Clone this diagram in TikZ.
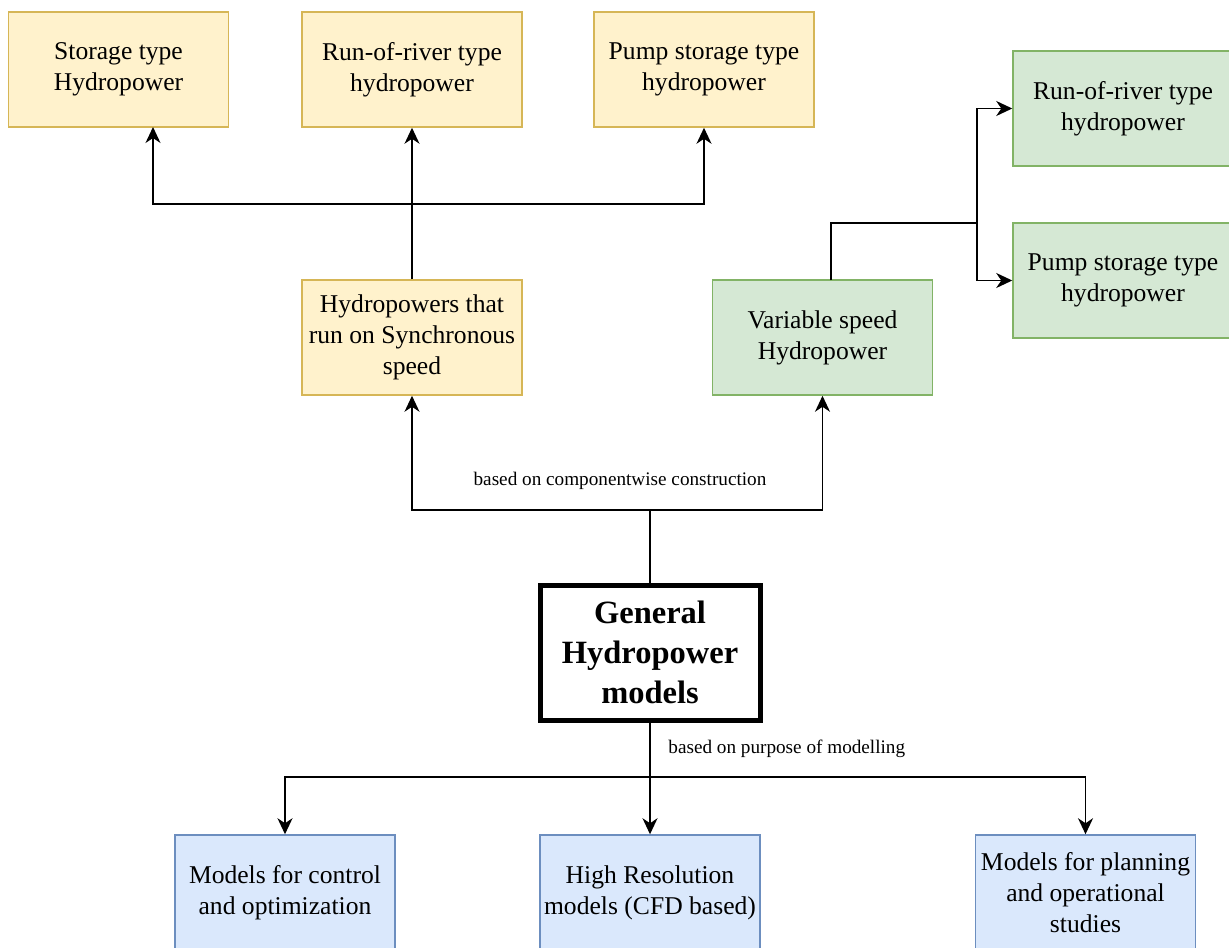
\documentclass[tikz,border=0pt]{standalone}
\usepackage{fontspec}
\setmainfont{Liberation Serif}
\usetikzlibrary{arrows.meta}
\definecolor{yfill}{HTML}{FFF2CC}
\definecolor{ydraw}{HTML}{D6B656}
\definecolor{gfill}{HTML}{D5E8D4}
\definecolor{gdraw}{HTML}{82B366}
\definecolor{bfill}{HTML}{DAE8FC}
\definecolor{bdraw}{HTML}{6C8EBF}
\tikzset{
  box/.style={rectangle, line width=0.75pt, minimum width=110pt, minimum height=57.5pt,
    align=center, inner sep=2pt, font=\fontsize{12.8}{15.4}\selectfont},
  ybox/.style={box, fill=yfill, draw=ydraw},
  gbox/.style={box, fill=gfill, draw=gdraw},
  bbox/.style={box, fill=bfill, draw=bdraw},
  genbox/.style={rectangle, draw=black, fill=white, line width=2.5pt, minimum width=110pt,
    minimum height=67.5pt, align=center, font=\fontsize{16.25}{20}\selectfont\bfseries},
  conn/.style={line width=0.8pt, draw=black},
  arr/.style={conn, -{Stealth[length=8pt, width=7.5pt, inset=2.5pt]}},
  lbl/.style={font=\fontsize{9.6}{11.5}\selectfont, inner sep=0pt}
}
\begin{document}
\begin{tikzpicture}[x=0.5pt, y=-0.5pt]
\useasboundingbox (0,0) rectangle (1229,947);
\clip (0,0) rectangle (1229,947);
\fill[white] (0,0) rectangle (1229,947);

% top yellow boxes
\node[ybox] (s1) at (118.5,69.5) {Storage type\\Hydropower};
\node[ybox] (s2) at (412,69.5) {Run-of-river type\\hydropower};
\node[ybox] (s3) at (704,69.5) {Pump storage type\\hydropower};

% middle
\node[ybox] (sync) at (412,337.5) {Hydropowers that\\run on Synchronous\\speed};
\node[gbox] (var) at (822.5,337.5) {Variable speed\\Hydropower};

% right green
\node[gbox] (g1) at (1123,108.5) {Run-of-river type\\hydropower};
\node[gbox] (g2) at (1123,280.5) {Pump storage type\\hydropower};

% general
\node[genbox] (gen) at (650,652.5) {General\\Hydropower\\models};

% bottom blue
\node[bbox] (b1) at (285,892.5) {Models for control\\and optimization};
\node[bbox] (b2) at (650,892.5) {High Resolution\\models (CFD based)};
\node[bbox] (b3) at (1085.5,892.5) {Models for planning\\and operational\\studies};

% coordinates
\coordinate (j1) at (412,204);
\coordinate (a1) at (153,127);
\coordinate (vtop) at (831,280);
\coordinate (j2) at (977,223);
\coordinate (j3) at (650,510);
\coordinate (j4) at (650,777);

% synchronous branch
\draw[arr] (sync.north) -- (s2.south);
\draw[arr] (j1) -| (a1);
\draw[arr] (j1) -| (s3.south);

% variable branch
\draw[conn] (vtop) |- (j2);
\draw[arr] (j2) |- (g1.west);
\draw[arr] (j2) |- (g2.west);

% general upward
\draw[conn] (gen.north) -- (j3);
\draw[arr] (j3) -| (sync.south);
\draw[arr] (j3) -| (var.south);
\node[lbl] (lab1) at (620,481) {based on componentwise construction};

% general downward
\draw[arr] (gen.south) -- (b2.north);
\draw[arr] (j4) -| (b1.north);
\draw[arr] (j4) -| (b3.north);
\node[lbl, anchor=west] (lab2) at (668,749) {based on purpose of modelling};
\end{tikzpicture}
\end{document}
